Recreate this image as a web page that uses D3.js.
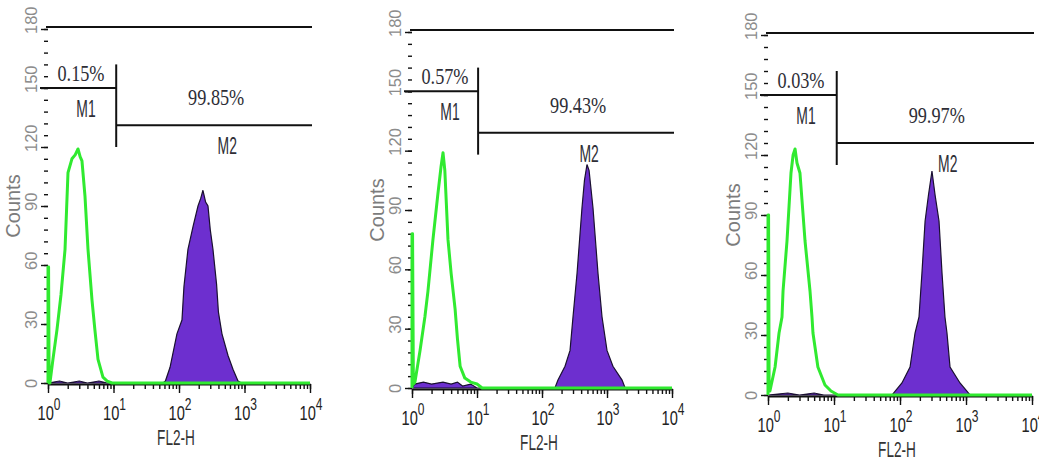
<!DOCTYPE html>
<html>
<head>
<meta charset="utf-8">
<script src="https://cdn.jsdelivr.net/npm/d3@7"></script>
<style>
  body { margin: 0; background: #fff; }
  svg { display: block; }
</style>
</head>
<body>
<div id="chart"></div>
<script>
// FL2-H histograms, as [FL2-H, counts]
// green = unstained control, purple = stained sample
var control1 = [[1,0],[1,59],[1.02,59],[1.04,0],[1.07,0],[1.19,12],[1.37,27],[1.58,45],[1.82,68],[1.92,88],[2.02,107],[2.32,114],[2.6,116],[2.87,119],[3.1,115],[3.3,113],[3.67,95],[4.08,68],[4.7,42],[5.2,27],[5.8,12],[6.9,3],[8,1],[9.5,0],[10000,0]];
var stained1 = [[1,0],[1.5,1],[2,0],[3,1],[4,0],[6,1],[8,0],[57,0],[62,1],[73,8],[93,25],[111,32],[119,49],[137,68],[165,80],[195,90],[215,94],[232,98],[255,92],[277,90],[300,78],[330,68],[375,50],[400,36],[453,25],[560,14],[667,7],[796,1],[900,0],[10000,0]];

var control2 = [[1,0],[1,78],[1.02,78],[1.05,2],[1.11,3],[1.33,19],[1.58,36],[1.76,49],[2.1,75],[2.5,98],[2.8,112],[3.0,119],[3.2,110],[3.58,75],[4.0,58],[4.6,40],[5.0,25],[5.5,11],[6.5,5],[8,3],[10,2],[12,0],[10000,0]];
var stained2 = [[1,0],[1.1,2],[1.5,3],[2,2],[3,3],[4,2],[5,3],[6,1],[8,2],[10,0],[158,0],[176,4],[226,11],[270,19],[300,36],[346,58],[412,91],[450,105],[492,113],[530,110],[609,91],[727,58],[838,36],[1000,19],[1234,11],[1706,4],[1900,0],[10000,0]];

var control3 = [[1,0],[1,90],[1.02,90],[1.04,2],[1.07,2],[1.28,14],[1.47,31],[1.63,39],[1.69,52],[1.94,77],[2.23,111],[2.4,120],[2.57,123],[2.75,116],[3.05,111],[3.64,77],[4.33,52],[4.64,39],[4.8,31],[5.7,14],[7.3,5],[9,2],[11.5,0],[10000,0]];
var stained3 = [[1,0],[2,1],[3,0],[5,1],[7,0],[76,0],[107,6],[142,14],[169,31],[194,39],[215,61],[240,87],[270,100],[305,112],[340,100],[390,87],[433,61],[480,39],[515,31],[573,14],[811,6],[1150,0],[10000,0]];

var controls = [control1, control2, control3];
var stained = [stained1, stained2, stained3];

// gate markers
var m1Percent = ["0.15%", "0.57%", "0.03%"];
var m2Percent = ["99.85%", "99.43%", "99.97%"];
var gateSplit = [11, 10.4, 11];     // FL2-H where M1 stops and M2 starts
var m2Level = [131, 129, 126];      // counts height of the M2 bar
var m1Level = 150;
var topLevel = 181;

var yTicks = [0, 30, 60, 90, 120, 150, 180];
var decades = [0, 1, 2, 3, 4];

// where each panel's axes sit on the page
var frames = [
  { left: 48,  right: 310,  bottom: 383, top: 29 },
  { left: 412, right: 672,  bottom: 388, top: 32 },
  { left: 768, right: 1032, bottom: 395, top: 35 }
];

var svg = d3.select('#chart').append('svg')
  .attr('width', 1039)
  .attr('height', 463);

var minorTicks = [];
decades.slice(0, 4).forEach(function(d) {
  for (var k = 1; k < 10; k++) minorTicks.push(k * Math.pow(10, d));
});
minorTicks.push(10000);

frames.forEach(function(f, i) {
  var x = d3.scaleLog().domain([1, 10000]).range([f.left, f.right]);
  var y = d3.scaleLinear().domain([0, 180]).range([f.bottom, f.top]);
  var g = svg.append('g');

  // y axis: dotted minor ticks, longer ones every 30
  var yMinor = g.append('g')
    .attr('transform', 'translate(' + f.left + ',0)')
    .call(d3.axisLeft(y).tickValues(d3.range(0, 181, 6)).tickSize(4).tickFormat(''));
  var yMajor = g.append('g')
    .attr('transform', 'translate(' + f.left + ',0)')
    .call(d3.axisLeft(y).tickValues(yTicks).tickSize(7).tickFormat(''));
  [yMinor, yMajor].forEach(function(a) {
    a.select('.domain').remove();
    a.selectAll('line').attr('stroke', '#111').attr('stroke-width', 2.2);
  });

  g.selectAll('.ylab')
    .data(yTicks)
    .enter()
    .append('text')
    .attr('transform', function(d) { return 'translate(' + (f.left - 11) + ',' + (y(d) + 5) + ') rotate(-90)'; })
    .attr('text-anchor', 'start')
    .style('font-family', 'Liberation Sans, Arial, sans-serif')
    .style('font-size', '16.5px')
    .style('fill', '#8c8c8c')
    .text(function(d) { return d; });

  g.append('text')
    .attr('transform', 'translate(' + (f.left - 28) + ',' + y(90) + ') rotate(-90)')
    .attr('text-anchor', 'middle')
    .style('font-family', 'Liberation Sans, Arial, sans-serif')
    .style('font-size', '20px')
    .style('fill', '#7c7c7c')
    .text('Counts');

  // x axis, log decades with minor ticks
  var xMinor = g.append('g')
    .attr('transform', 'translate(0,' + (f.bottom + 1) + ')')
    .call(d3.axisBottom(x).tickValues(minorTicks).tickSize(5).tickSizeOuter(0).tickFormat(''));
  xMinor.select('.domain').attr('stroke', '#111').attr('stroke-width', 2);
  var xMajor = g.append('g')
    .attr('transform', 'translate(0,' + (f.bottom + 1) + ')')
    .call(d3.axisBottom(x).tickValues(decades.map(function(d) { return Math.pow(10, d); })).tickSize(9).tickFormat(''));
  xMajor.select('.domain').remove();
  g.selectAll('.tick line').attr('stroke', '#111').attr('stroke-width', 1.4);

  var xl = g.selectAll('.xlab')
    .data(decades)
    .enter()
    .append('text')
    .attr('transform', function(d) { return 'translate(' + (x(Math.pow(10, d)) + 1) + ',' + (f.bottom + 37) + ') scale(0.75,1)'; })
    .attr('text-anchor', 'middle')
    .style('font-family', 'Liberation Sans, Arial, sans-serif')
    .style('fill', '#222');
  xl.append('tspan').style('font-size', '19.5px').text('10');
  xl.append('tspan').attr('dy', -10).style('font-size', '16px').text(function(d) { return d; });

  g.append('text')
    .attr('transform', 'translate(' + ((f.left + f.right) / 2 - 3) + ',' + (f.bottom + 62) + ') scale(0.62,1)')
    .attr('text-anchor', 'middle')
    .style('font-family', 'Liberation Sans, Arial, sans-serif')
    .style('font-size', '22px')
    .style('fill', '#333')
    .text('FL2-H');

  // histograms
  var area = d3.area()
    .x(function(d) { return x(d[0]); })
    .y0(y(0))
    .y1(function(d) { return y(d[1]); });
  g.append('path')
    .datum(stained[i])
    .attr('d', area)
    .attr('fill', '#6d2fcf')
    .attr('stroke', '#1a1030')
    .attr('stroke-width', 1.2);

  var line = d3.line()
    .x(function(d) { return x(d[0]); })
    .y(function(d) { return y(d[1]); });
  g.append('path')
    .datum(controls[i])
    .attr('d', line)
    .attr('fill', 'none')
    .attr('stroke', '#30ea30')
    .attr('stroke-width', 3)
    .attr('stroke-linejoin', 'round');

  // gate markers
  var gx = x(gateSplit[i]);
  var marks = [
    [f.left - 2, y(topLevel), f.right + 2, y(topLevel)],
    [f.left - 8, y(m1Level), gx, y(m1Level)],
    [gx, y(m1Level + 12), gx, y(m2Level[i] - 11)],
    [gx, y(m2Level[i]), f.right + 2, y(m2Level[i])]
  ];
  g.selectAll('.mark')
    .data(marks)
    .enter()
    .append('line')
    .attr('x1', function(d) { return d[0]; })
    .attr('y1', function(d) { return d[1]; })
    .attr('x2', function(d) { return d[2]; })
    .attr('y2', function(d) { return d[3]; })
    .attr('stroke', '#111')
    .attr('stroke-width', 2);

  function label(txt, px, py, sx, font, size) {
    g.append('text')
      .attr('transform', 'translate(' + px + ',' + py + ') scale(' + sx + ',1)')
      .attr('text-anchor', 'middle')
      .style('font-family', font)
      .style('font-size', size)
      .style('fill', '#2e2e36')
      .text(txt);
  }
  var serif = 'Liberation Serif, Times New Roman, serif';
  var sans = 'Liberation Sans, Arial, sans-serif';
  label(m1Percent[i], f.left + 33, y(m1Level) - 7, 0.76, serif, '24px');
  label('M1', f.left + 38, y(m1Level) + 29, 0.58, sans, '24px');
  label(m2Percent[i], gx + 100, y(m2Level[i]) - 20, 0.76, serif, '24px');
  label('M2', gx + 111, y(m2Level[i]) + 29, 0.58, sans, '24px');
});
</script>
</body>
</html>
